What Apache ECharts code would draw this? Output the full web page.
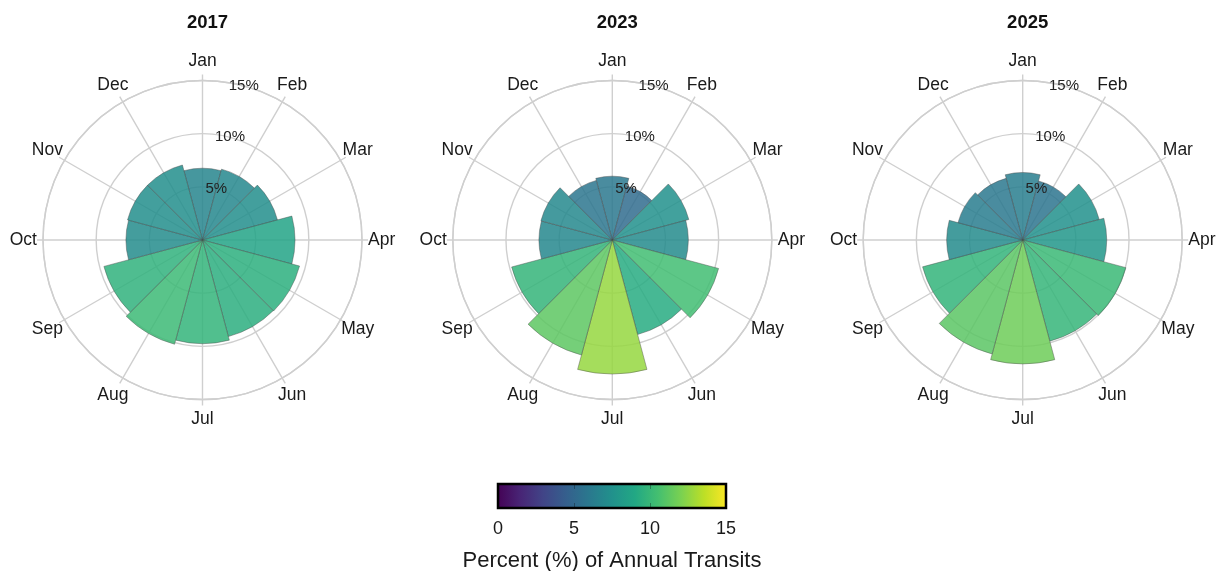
<!DOCTYPE html>
<html><head><meta charset="utf-8">
<script src="https://cdn.jsdelivr.net/npm/echarts@6/dist/echarts.min.js"></script>
<style>html,body{margin:0;padding:0;background:#fff}#chart{width:1224px;height:571px}</style>
</head><body><div id="chart"></div>
<script>
// ---- data ----
const months = ['Jan','Feb','Mar','Apr','May','Jun','Jul','Aug','Sep','Oct','Nov','Dec'];
const years = ['2017','2023','2025'];
const pct2017 = [6.75, 6.9, 7.3, 8.7, 9.45, 9.4, 9.75, 10.15, 9.6, 7.2, 7.3, 7.3];
const pct2023 = [6.0, 5.25, 7.45, 7.15, 10.35, 9.2, 12.6, 11.2, 9.8, 6.9, 6.95, 5.8];
const pct2025 = [6.35, 5.75, 7.45, 7.9, 10.05, 9.85, 11.65, 11.1, 9.75, 7.15, 6.3, 6.0];
const colorbarTitle = 'Percent (%) of Annual Transits';

// ---- layout / style ----
const FONT = '"Liberation Sans", Arial, Helvetica, sans-serif';
const CENTERS_X = [202.5, 612.3, 1022.7];
const CY = 240, R = 159.5, RMAX = 15, LABEL_R = 16.85;
const GRID = '#cfcfcf';
const VIRIDIS = ['#440154','#482475','#414487','#355f8d','#2a788e','#21918c','#22a884','#44bf70','#7ad151','#bddf26','#fde725'];
const yearValues = [pct2017, pct2023, pct2025];
const viridisAt = v => echarts.color.lerp(Math.max(0, Math.min(1, v / RMAX)), VIRIDIS);

const chart = echarts.init(document.getElementById('chart'), null, {renderer: 'canvas'});

const polar = [], angleAxis = [], radiusAxis = [], barSeries = [], labelSeries = [], title = [];
years.forEach((yr, k) => {
  const center = [CENTERS_X[k], CY];
  for (let j = 0; j < 3; j++) polar.push({center: center, radius: R});
  const p1 = 3 * k, p2 = 3 * k + 1, p3 = 3 * k + 2;
  // polar 1: bars (category angle axis, bars centred on month spokes)
  angleAxis.push({polarIndex: p1, type: 'category', data: months, startAngle: 105, clockwise: true,
    axisLine: {show: true, lineStyle: {color: GRID, width: 1.4}}, axisTick: {show: false},
    axisLabel: {show: false}, splitLine: {show: false}, splitArea: {show: false}});
  radiusAxis.push({polarIndex: p1, type: 'value', min: 0, max: RMAX, interval: 5,
    axisLine: {show: false}, axisTick: {show: false}, axisLabel: {show: false},
    splitLine: {show: true, lineStyle: {color: GRID, width: 1.4}}});
  // polar 2: spokes
  angleAxis.push({polarIndex: p2, type: 'value', min: 0, max: 360, interval: 30, startAngle: 90, clockwise: true,
    axisLine: {show: false}, axisLabel: {show: false},
    axisTick: {show: true, inside: false, length: 6, lineStyle: {color: GRID, width: 1.4}},
    splitLine: {show: true, lineStyle: {color: GRID, width: 1.4}}});
  radiusAxis.push({polarIndex: p2, type: 'value', min: 0, max: RMAX, show: false});
  // polar 3: radius labels at 15 degrees
  angleAxis.push({polarIndex: p3, type: 'value', min: 0, max: 360, startAngle: 75, clockwise: true, show: false});
  radiusAxis.push({polarIndex: p3, type: 'value', min: 0, max: RMAX, interval: 5, z: 10,
    axisLine: {show: false}, axisTick: {show: false}, splitLine: {show: false},
    axisLabel: {show: true, margin: 0, align: 'center', verticalAlign: 'middle', fontSize: 15, color: '#222',
      fontFamily: FONT, formatter: v => v === 0 ? '' : v + '%'}});

  title.push({text: yr, left: CENTERS_X[k], top: 8, textAlign: 'center',
    textStyle: {fontSize: 18.5, fontWeight: 'bold', color: '#111', fontFamily: FONT}});

  barSeries.push({type: 'bar', coordinateSystem: 'polar', polarIndex: p1,
    data: yearValues[k].map(v => ({value: v, itemStyle: {color: viridisAt(v)}})),
    barCategoryGap: '0%', silent: true, z: 2,
    itemStyle: {opacity: 0.85, borderColor: '#4a4a4a', borderWidth: 0.5}});
  labelSeries.push({type: 'scatter', coordinateSystem: 'polar', polarIndex: p1, silent: true, clip: false, z: 5,
    symbol: 'circle', symbolSize: 1, itemStyle: {color: 'rgba(0,0,0,0)', opacity: 1},
    data: months.map((m, i) => ({name: m, value: [LABEL_R, i]})),
    label: {show: true, position: 'inside', formatter: '{b}', fontSize: 17.5, color: '#1a1a1a', opacity: 1, fontFamily: FONT}});
});

const option = {
  animation: false,
  backgroundColor: '#fff',
  textStyle: {fontFamily: FONT},
  title: title,
  polar: polar,
  angleAxis: angleAxis,
  radiusAxis: radiusAxis,
  grid: {left: 498, top: 484, width: 228, height: 24, show: true, borderColor: '#000', borderWidth: 2.5,
    containLabel: false, outerBoundsMode: 'none',
    backgroundColor: new echarts.graphic.LinearGradient(0, 0, 1, 0,
      VIRIDIS.map((c, i) => ({offset: i / (VIRIDIS.length - 1), color: c})))},
  xAxis: [
    {type: 'value', min: 0, max: RMAX, interval: 5, position: 'bottom',
      axisLine: {show: false}, splitLine: {show: false},
      axisTick: {show: true, inside: true, length: 5, lineStyle: {color: 'rgba(0,0,0,0.3)'}},
      axisLabel: {fontSize: 18, color: '#1a1a1a', margin: 12},
      name: colorbarTitle, nameLocation: 'middle', nameGap: 42,
      nameTextStyle: {fontSize: 22, color: '#1a1a1a'}},
    {type: 'value', min: 0, max: RMAX, interval: 5, position: 'top',
      axisLine: {show: false}, splitLine: {show: false}, axisLabel: {show: false},
      axisTick: {show: true, inside: true, length: 5, lineStyle: {color: 'rgba(0,0,0,0.3)'}}}
  ],
  yAxis: {type: 'value', show: false},
  series: barSeries.concat(labelSeries)
};
chart.setOption(option);
</script>
</body></html>
